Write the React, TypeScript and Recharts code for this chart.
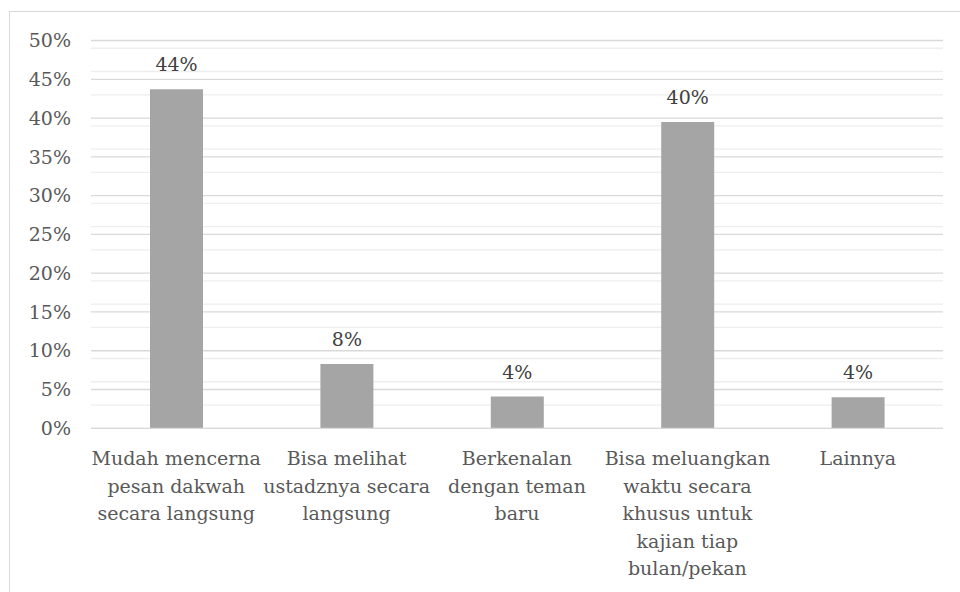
import React from 'react';
import {
  BarChart, Bar, XAxis, YAxis, CartesianGrid, LabelList
} from 'recharts';

const categories = [
  'Mudah mencerna pesan dakwah secara langsung',
  'Bisa melihat ustadznya secara langsung',
  'Berkenalan dengan teman baru',
  'Bisa meluangkan waktu secara khusus untuk kajian tiap bulan/pekan',
  'Lainnya',
];

// wrapped lines of each category label, as they appear under the axis
const categoryLines = [
  ['Mudah mencerna', 'pesan dakwah', 'secara langsung'],
  ['Bisa melihat', 'ustadznya secara', 'langsung'],
  ['Berkenalan', 'dengan teman', 'baru'],
  ['Bisa meluangkan', 'waktu secara', 'khusus untuk', 'kajian tiap', 'bulan/pekan'],
  ['Lainnya'],
];

const values = [43.7, 8.3, 4.1, 39.5, 4.0];

const majorTicks = [0, 5, 10, 15, 20, 25, 30, 35, 40, 45, 50];
const minorTicks = [
  1, 2, 3, 4, 6, 7, 8, 9, 11, 12, 13, 14, 16, 17, 18, 19, 21, 22, 23, 24,
  26, 27, 28, 29, 31, 32, 33, 34, 36, 37, 38, 39, 41, 42, 43, 44, 46, 47, 48, 49,
];

const data = categories.map((name, i) => ({ name, value: values[i] }));

// Liberation Serif doesn't load in the sandbox, DejaVu Serif does
const FONT = "DejaVu Serif";
const FS = 19;

const CategoryTick = (props: any) => {
  const { x, y, payload } = props;
  const lines = categoryLines[payload.index] || [payload.value];
  return (
    <text x={x} y={y + 37} textAnchor="middle" fill="#595959" fontSize={FS} fontFamily={FONT}>
      {lines.map((line: string, i: number) => (
        <tspan key={i} x={x} dy={i === 0 ? 0 : 27.5}>{line}</tspan>
      ))}
    </text>
  );
};

const App: React.FC = () => {
  return (
    <div style={{ position: 'fixed', left: 0, top: 0, width: 960, height: 592, overflow: 'hidden', background: '#fff' }}>
      {/* chart frame, runs off the right and bottom of the picture */}
      <div style={{ position: 'absolute', left: 9, top: 11, width: 1000, height: 700, border: '1px solid #d9d9d9' }}></div>
      <div style={{ position: 'absolute', left: 0, top: 0 }}>
        <BarChart
          width={960}
          height={592}
          data={data}
          margin={{ top: 40.5, right: 17, bottom: 0, left: 0 }}
          barSize={53}
        >
          <CartesianGrid horizontalValues={minorTicks} vertical={false} stroke="#eeeeee" strokeWidth={1.3} />
          <CartesianGrid horizontalValues={majorTicks} vertical={false} stroke="#d9d9d9" strokeWidth={1.3} />
          <XAxis
            dataKey="name"
            interval={0}
            tickLine={false}
            tickSize={0}
            tickMargin={0}
            height={163.7}
            axisLine={{ stroke: '#d9d9d9', strokeWidth: 1.3 }}
            tick={<CategoryTick />}
          />
          <YAxis
            domain={[0, 50]}
            ticks={majorTicks}
            width={91}
            axisLine={false}
            tickLine={false}
            tickSize={0}
            tickMargin={20}
            tickFormatter={(v: number) => `${v}%`}
            tick={{ fill: '#595959', fontSize: FS, fontFamily: FONT }}
          />
          <Bar dataKey="value" fill="#a5a5a5" isAnimationActive={false}>
            <LabelList
              dataKey="value"
              position="top"
              offset={18}
              formatter={(v: any) => `${Math.round(v)}%`}
              fill="#404040"
              fontSize={FS}
              fontFamily={FONT}
            />
          </Bar>
        </BarChart>
      </div>
    </div>
  );
};

export default App;
